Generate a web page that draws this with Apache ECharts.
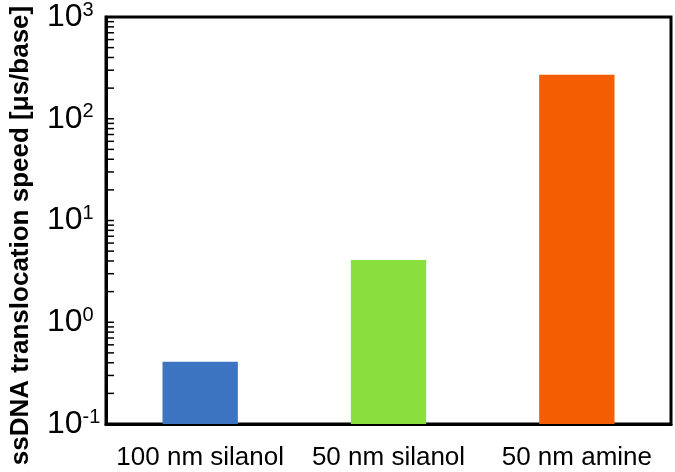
<!DOCTYPE html>
<html>
<head>
<meta charset="utf-8">
<script src="https://cdn.jsdelivr.net/npm/echarts@6/dist/echarts.min.js"></script>
<style>
  html, body { margin: 0; padding: 0; background: #fff; }
  #chart { width: 675px; height: 472px; }
</style>
</head>
<body>
<div id="chart"></div>
<script>
// values (log scale)
const categories = ["100 nm silanol", "50 nm silanol", "50 nm amine"];
const speeds = [0.41, 4.1, 270];
const barColors = ["#3c74c1", "#8adf3f", "#f55d02"];
// minor + major tick positions on the log axis
const tickValues = [
  0.2, 0.3, 0.4, 0.5, 0.6, 0.7, 0.8, 0.9,
  1, 2, 3, 4, 5, 6, 7, 8, 9,
  10, 20, 30, 40, 50, 60, 70, 80, 90,
  100, 200, 300, 400, 500, 600, 700, 800, 900,
];

const font = "Liberation Sans, Arial";
const chart = echarts.init(document.getElementById("chart"));

chart.setOption({
  animation: false,
  grid: {
    left: 104,
    right: 4,
    top: 17,
    bottom: 48,
    show: true,
    borderColor: "#000",
    borderWidth: 3,
  },
  xAxis: {
    type: "category",
    data: categories,
    axisLine: { onZero: false, lineStyle: { color: "#000", width: 3 } },
    axisTick: { inside: true, length: 7, lineStyle: { color: "#000", width: 1.5 } },
    axisLabel: {
      interval: 0,
      hideOverlap: false,
      color: "#000",
      fontFamily: font,
      fontSize: 26,
      margin: 21,
    },
  },
  yAxis: {
    type: "log",
    logBase: 10,
    min: 0.1,
    max: 1000,
    startValue: 0.1,
    name: "ssDNA translocation speed [μs/base]",
    nameLocation: "middle",
    nameRotate: 90,
    nameGap: 72,
    nameTextStyle: {
      color: "#000",
      fontFamily: font,
      fontWeight: "bold",
      fontSize: 26,
      padding: [0, 30, 0, 0],
    },
    splitLine: { show: false },
    axisLine: { show: true, lineStyle: { color: "#000", width: 3 } },
    axisTick: { show: false },
    axisLabel: {
      margin: 59,
      align: "left",
      formatter: function (v) {
        const p = Math.round(Math.log10(v));
        return "{b|10}{s|" + p + "}";
      },
      rich: {
        b: { fontSize: 32, fontFamily: font, color: "#000", lineHeight: 34 },
        s: { fontSize: 20, fontFamily: font, color: "#000", verticalAlign: "top", lineHeight: 26 },
      },
    },
  },
  series: [
    {
      type: "bar",
      barWidth: "40%",
      data: speeds.map((v, i) => ({ value: v, itemStyle: { color: barColors[i] } })),
    },
    {
      // inward tick marks on the log axis, placed through the axis scale
      type: "custom",
      silent: true,
      z: 10,
      data: tickValues.map((v) => [0, v]),
      encode: { x: 0, y: 1 },
      renderItem: function (params, api) {
        const y = api.coord([0, api.value(1)])[1];
        const x0 = params.coordSys.x;
        return {
          type: "line",
          shape: { x1: x0, y1: y, x2: x0 + 8, y2: y },
          style: { stroke: "#000", lineWidth: 1.5 },
        };
      },
    },
  ],
});
</script>
</body>
</html>
